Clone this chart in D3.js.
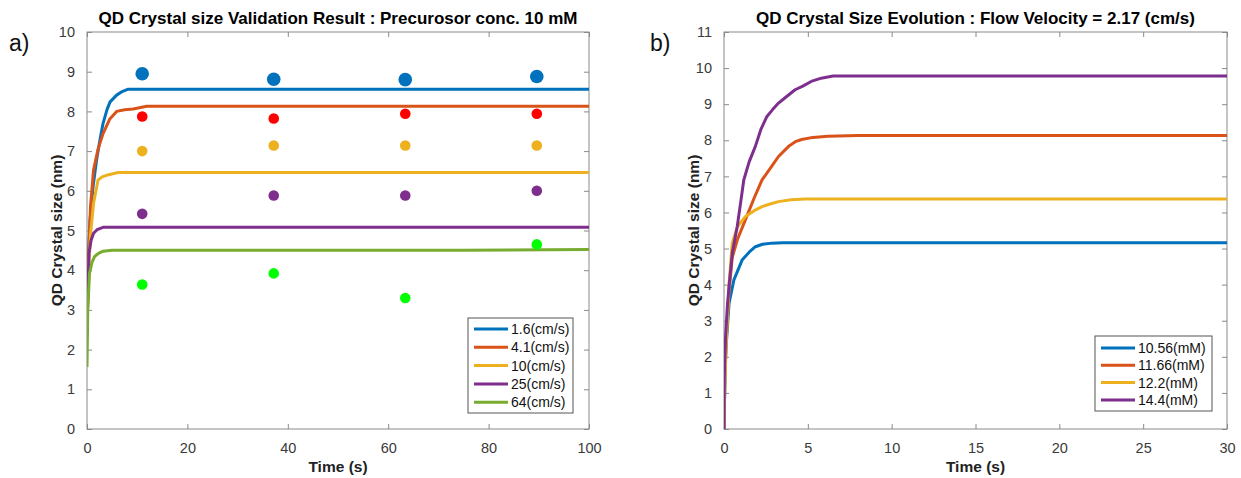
<!DOCTYPE html>
<html>
<head>
<meta charset="utf-8">
<script src="https://cdn.jsdelivr.net/npm/d3@7"></script>
<style>
  body { margin: 0; background: #fff; }
  svg { display: block; font-family: "Liberation Sans", Arial, sans-serif; }
</style>
</head>
<body>
<svg id="chart" width="1241" height="478"></svg>
<script>
// ---------- Panel a) data ----------
const aTitle = "QD Crystal size Validation Result : Precurosor conc. 10 mM";
const aXTicks = [0, 20, 40, 60, 80, 100];
const aYTicks = [0, 1, 2, 3, 4, 5, 6, 7, 8, 9, 10];
const aSeriesNames = ["1.6(cm/s)", "4.1(cm/s)", "10(cm/s)", "25(cm/s)", "64(cm/s)"];

const aT16 = [0, 0.3, 0.6, 1.2, 1.9, 2.6, 3.2, 4.0, 4.6, 5.9, 7.0, 8.2, 100];
const aY16 = [2.7, 4.4, 5.25, 6.1, 6.77, 7.3, 7.7, 8.05, 8.24, 8.41, 8.5, 8.56, 8.56];
const aT41 = [0, 0.3, 0.7, 1.3, 2.2, 3.2, 4.5, 5.9, 7.5, 9.2, 11.9, 100];
const aY41 = [2.6, 4.3, 5.6, 6.52, 7.05, 7.44, 7.8, 8.0, 8.04, 8.06, 8.13, 8.13];
const aT10 = [0, 0.3, 0.7, 1.3, 2.2, 3.0, 3.9, 6.2, 100];
const aY10 = [2.5, 3.9, 4.9, 5.68, 6.27, 6.35, 6.39, 6.46, 6.46];
const aT25 = [0, 0.2, 0.4, 0.8, 1.3, 2.0, 3.2, 100];
const aY25 = [2.4, 3.6, 4.43, 4.75, 4.93, 5.02, 5.08, 5.08];
const aT64 = [0, 0.15, 0.5, 1.0, 1.5, 2.2, 3.2, 5.0, 75, 100];
const aY64 = [1.56, 3.0, 3.92, 4.2, 4.34, 4.42, 4.48, 4.5, 4.5, 4.52];

// measured points
const aDotT = [11, 37.2, 63.4, 89.6];
const aDot16 = [8.95, 8.81, 8.80, 8.88];
const aDot41 = [7.87, 7.82, 7.94, 7.94];
const aDot10 = [7.00, 7.14, 7.14, 7.14];
const aDot25 = [5.42, 5.88, 5.88, 6.00];
const aDot64 = [3.64, 3.92, 3.30, 4.65];

// ---------- Panel b) data ----------
const bTitle = "QD Crystal Size Evolution : Flow Velocity = 2.17 (cm/s)";
const bXTicks = [0, 5, 10, 15, 20, 25, 30];
const bYTicks = [0, 1, 2, 3, 4, 5, 6, 7, 8, 9, 10, 11];
const bSeriesNames = ["10.56(mM)", "11.66(mM)", "12.2(mM)", "14.4(mM)"];

const bT1056 = [0, 0.05, 0.1, 0.3, 0.59, 1.08, 1.5, 1.87, 2.3, 2.86, 3.5, 30];
const bY1056 = [0, 1.2, 2.1, 3.48, 4.13, 4.68, 4.9, 5.05, 5.12, 5.15, 5.16, 5.16];
const bT1166 = [0, 0.05, 0.15, 0.3, 0.49, 0.8, 1.28, 1.8, 2.27, 2.8, 3.25, 3.9, 4.3, 4.63, 5.3, 6.2, 8, 30];
const bY1166 = [0, 1.4, 2.6, 3.8, 4.75, 5.25, 5.8, 6.4, 6.9, 7.25, 7.55, 7.85, 7.97, 8.02, 8.08, 8.11, 8.13, 8.13];
const bT122 = [0, 0.05, 0.15, 0.3, 0.49, 0.8, 1.28, 1.8, 2.27, 2.8, 3.25, 4.0, 4.83, 30];
const bY122 = [0, 1.3, 2.6, 4.0, 5.15, 5.6, 5.89, 6.05, 6.16, 6.24, 6.3, 6.35, 6.37, 6.37];
const bT144 = [0, 0.02, 0.1, 0.2, 0.3, 0.5, 0.79, 1.0, 1.18, 1.5, 1.87, 2.2, 2.56, 2.9, 3.25, 3.7, 4.24, 4.7, 5.2, 5.8, 6.5, 30];
const bY144 = [0, 1.5, 2.6, 3.4, 3.95, 4.9, 5.61, 6.3, 6.9, 7.4, 7.83, 8.3, 8.66, 8.85, 9.03, 9.2, 9.4, 9.5, 9.63, 9.72, 9.78, 9.78];

const lineColors = ["#0072BD", "#D95319", "#EDB120", "#7E2F8E", "#77AC30"];
const dotColors = ["#0072BD", "#FF0000", "#EDB120", "#7E2F8E", "#00FF00"];

const svg = d3.select("#chart");
const axisColor = "#8a8a8a";
const textColor = "#3a3a3a";

function drawPanel(o) {
  const x = d3.scaleLinear().domain(o.xDomain).range([o.left, o.right]);
  const y = d3.scaleLinear().domain(o.yDomain).range([o.bottom, o.top]);
  const g = svg.append("g");

  // box
  g.append("rect").attr("x", o.left).attr("y", o.top)
    .attr("width", o.right - o.left).attr("height", o.bottom - o.top)
    .attr("fill", "none").attr("stroke", axisColor).attr("stroke-width", 1);

  const tl = 5;
  // axes with inward ticks
  const axB = g.append("g").attr("transform", `translate(0,${o.bottom})`)
    .call(d3.axisBottom(x).tickValues(o.xTicks).tickSize(-tl).tickPadding(9 + tl).tickFormat(d3.format("d")));
  const axT = g.append("g").attr("transform", `translate(0,${o.top})`)
    .call(d3.axisTop(x).tickValues(o.xTicks).tickSize(-tl).tickFormat(""));
  const axL = g.append("g").attr("transform", `translate(${o.left},0)`)
    .call(d3.axisLeft(y).tickValues(o.yTicks).tickSize(-tl).tickPadding(7 + tl).tickFormat(d3.format("d")));
  const axR = g.append("g").attr("transform", `translate(${o.right},0)`)
    .call(d3.axisRight(y).tickValues(o.yTicks).tickSize(-tl).tickFormat(""));
  [axB, axT, axL, axR].forEach(a => {
    a.select(".domain").remove();
    a.selectAll(".tick line").attr("stroke", axisColor);
    a.selectAll(".tick text").attr("fill", textColor).style("font-size", "14.5px")
      .style("font-family", "'Liberation Sans', Arial, sans-serif");
  });

  // title & labels
  g.append("text").attr("x", (o.left + o.right) / 2).attr("y", 24)
    .attr("text-anchor", "middle").attr("font-weight", "bold").attr("font-size", "17px")
    .attr("fill", "#000").text(o.title);
  g.append("text").attr("x", (o.left + o.right) / 2).attr("y", 472)
    .attr("text-anchor", "middle").attr("font-weight", "bold").attr("font-size", "15.5px")
    .attr("fill", "#222").text("Time (s)");
  g.append("text").attr("transform", `translate(${o.left - 25},${(o.top + o.bottom) / 2}) rotate(-90)`)
    .attr("text-anchor", "middle").attr("font-weight", "bold").attr("font-size", "15.5px")
    .attr("fill", "#222").text("QD Crystal size (nm)");
  g.append("text").attr("x", o.tagX).attr("y", 51).attr("font-size", "23px")
    .attr("fill", "#111").text(o.tag);

  // lines
  const line = d3.line().x(d => x(d[0])).y(d => y(d[1]));
  const clipId = "clip" + o.tag.replace(")", "");
  svg.append("clipPath").attr("id", clipId).append("rect")
    .attr("x", o.left).attr("y", o.top).attr("width", o.right - o.left).attr("height", o.bottom - o.top + 2);
  const lg = g.append("g").attr("clip-path", `url(#${clipId})`);
  o.series.forEach((s, i) => {
    lg.append("path").datum(d3.zip(s.t, s.v)).attr("d", line)
      .attr("fill", "none").attr("stroke", s.color).attr("stroke-width", 3)
      .attr("stroke-linejoin", "round");
  });

  // dots
  (o.dots || []).forEach(dset => {
    g.selectAll(null).data(d3.zip(o.dotT, dset.v)).enter().append("circle")
      .attr("cx", d => x(d[0])).attr("cy", d => y(d[1])).attr("r", dset.r)
      .attr("fill", dset.color);
  });

  // legend
  const L = o.legend;
  g.append("rect").attr("x", L.x).attr("y", L.y).attr("width", L.w).attr("height", L.h)
    .attr("fill", "#fff").attr("stroke", "#555").attr("stroke-width", 1);
  o.series.forEach((s, i) => {
    const yy = L.y + L.first + i * L.step;
    g.append("line").attr("x1", L.x + 6).attr("x2", L.x + 40).attr("y1", yy).attr("y2", yy)
      .attr("stroke", s.color).attr("stroke-width", 3);
    g.append("text").attr("x", L.x + 43).attr("y", yy + 5).attr("font-size", "14px")
      .attr("fill", "#111").text(s.name);
  });
}

drawPanel({
  tag: "a)", tagX: 9, title: aTitle,
  left: 87, right: 589, top: 32, bottom: 429,
  xDomain: [0, 100], yDomain: [0, 10], xTicks: aXTicks, yTicks: aYTicks,
  series: [
    { t: aT16, v: aY16, color: lineColors[0], name: aSeriesNames[0] },
    { t: aT41, v: aY41, color: lineColors[1], name: aSeriesNames[1] },
    { t: aT10, v: aY10, color: lineColors[2], name: aSeriesNames[2] },
    { t: aT25, v: aY25, color: lineColors[3], name: aSeriesNames[3] },
    { t: aT64, v: aY64, color: lineColors[4], name: aSeriesNames[4] }
  ],
  dotT: aDotT,
  dots: [
    { v: aDot16, color: dotColors[0], r: 6.8 },
    { v: aDot41, color: dotColors[1], r: 5.3 },
    { v: aDot10, color: dotColors[2], r: 5.3 },
    { v: aDot25, color: dotColors[3], r: 5.3 },
    { v: aDot64, color: dotColors[4], r: 5.3 }
  ],
  legend: { x: 468, y: 318, w: 105, h: 95, first: 11, step: 18.3 }
});

drawPanel({
  tag: "b)", tagX: 650, title: bTitle,
  left: 724, right: 1227, top: 32, bottom: 429,
  xDomain: [0, 30], yDomain: [0, 11], xTicks: bXTicks, yTicks: bYTicks,
  series: [
    { t: bT1056, v: bY1056, color: lineColors[0], name: bSeriesNames[0] },
    { t: bT1166, v: bY1166, color: lineColors[1], name: bSeriesNames[1] },
    { t: bT122, v: bY122, color: lineColors[2], name: bSeriesNames[2] },
    { t: bT144, v: bY144, color: lineColors[3], name: bSeriesNames[3] }
  ],
  legend: { x: 1095, y: 336, w: 117, h: 75, first: 12, step: 17.3 }
});
</script>
</body>
</html>
